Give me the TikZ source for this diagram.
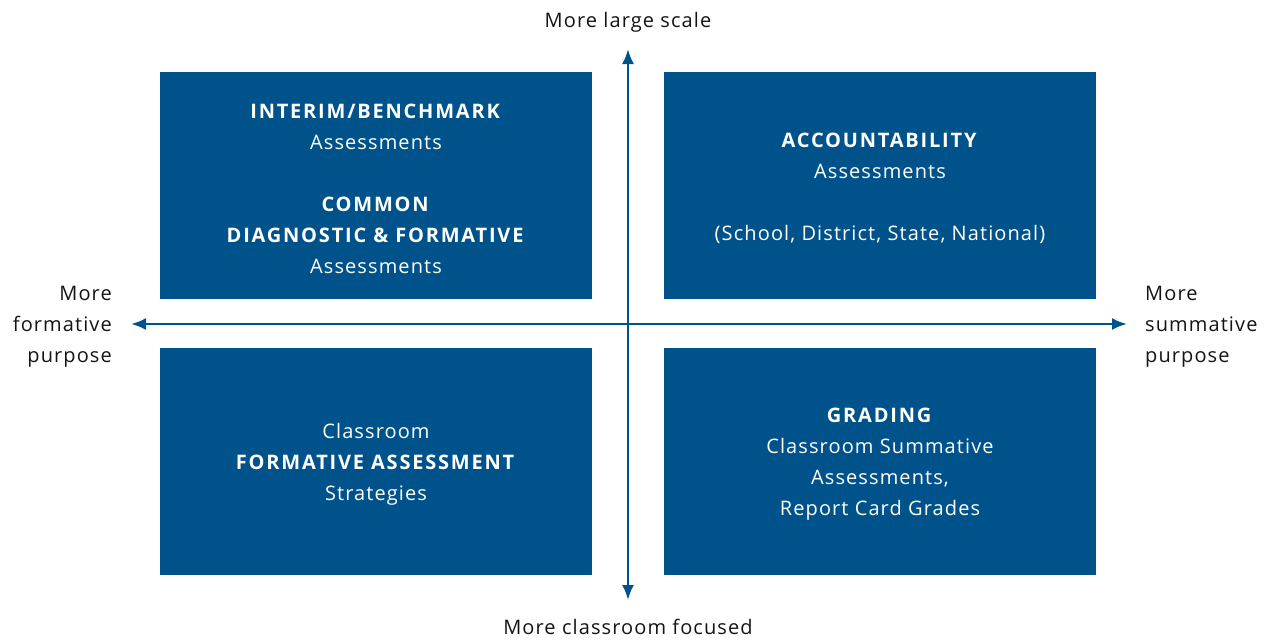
\documentclass[tikz,border=0pt]{standalone}
\usepackage{fontspec}
\setmainfont{Open Sans}[LetterSpace=5.5, BoldFeatures={LetterSpace=9}]
\usetikzlibrary{arrows.meta}
\definecolor{navy}{RGB}{0,82,138}
\definecolor{txt}{RGB}{20,20,20}
\begin{document}
\begin{tikzpicture}[x=1pt,y=-1pt,
  quad/.style={fill=navy, draw=none, minimum width=432pt, minimum height=227pt, inner sep=0pt},
  qtext/.style={text=white, align=center, inner sep=0pt, font=\fontsize{20}{31}\selectfont},
  axis/.style={draw=navy, line width=2.4pt, {Latex[length=15pt,width=12pt]}-{Latex[length=15pt,width=12pt]}},
  lbl/.style={text=txt, font=\fontsize{20}{31}\selectfont, inner sep=0pt}]
\useasboundingbox (0,0) rectangle (1270,641);
\node[quad] (tl) at (376,185.5) {};
\node[quad] (tr) at (880,185.5) {};
\node[quad] (bl) at (376,461.5) {};
\node[quad] (br) at (880,461.5) {};
\node[qtext] (tlt) at ([yshift=-3pt]tl.center) {\textbf{INTERIM/BENCHMARK}\\Assessments\\[31pt]\textbf{COMMON}\\\textbf{DIAGNOSTIC \& FORMATIVE}\\Assessments};
\node[qtext] (trt) at ([yshift=-3pt]tr.center) {\textbf{ACCOUNTABILITY}\\Assessments\\[31pt](School, District, State, National)};
\node[qtext] (blt) at ([yshift=-3pt]bl.center) {Classroom\\\textbf{FORMATIVE ASSESSMENT}\\Strategies};
\node[qtext] (brt) at ([yshift=-3pt]br.center) {\textbf{GRADING}\\Classroom Summative\\Assessments,\\Report Card Grades};
\coordinate (top) at (628,49);
\coordinate (bot) at (628,600);
\coordinate (lft) at (131,324);
\coordinate (rgt) at (1127,324);
\draw[axis] (top) -- (bot);
\draw[axis] (lft) -- (rgt);
\node[lbl, anchor=south] (tlab) at (628,32) {More large scale};
\node[lbl, anchor=north] (blab) at (628,619) {More classroom focused};
\node[lbl, anchor=east, align=right] (llab) at (112,327) {More\\formative\\purpose};
\node[lbl, anchor=west, align=left] (rlab) at (1145,327) {More\\summative\\purpose};
\end{tikzpicture}
\end{document}
